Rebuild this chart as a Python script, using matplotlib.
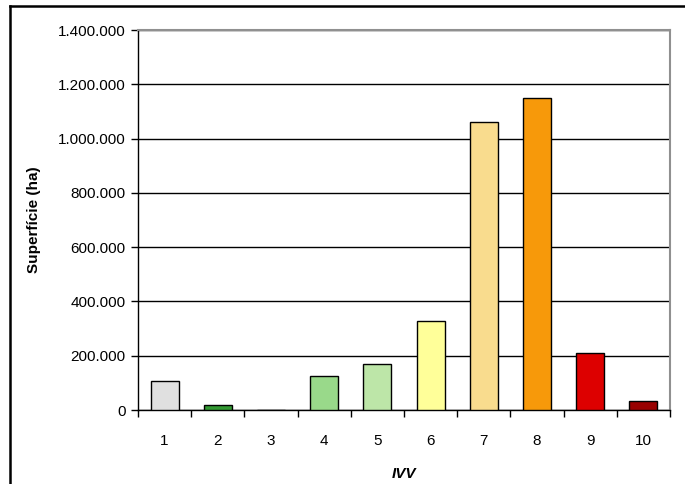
import matplotlib.pyplot as plt
from matplotlib.ticker import FuncFormatter, FixedLocator, NullFormatter
from matplotlib.lines import Line2D

plt.rcParams['font.family'] = ['Liberation Sans', 'DejaVu Sans']

# Área por classe de IVV
classes = ["1", "2", "3", "4", "5", "6", "7", "8", "9", "10"]
area_ha = [108000, 17000, 0, 124000, 169000, 327000, 1061000, 1150000, 209000, 34000]
colors = ["#E0E0E0", "#339933", "#FFFFFF", "#99D98A", "#BDE6A8",
          "#FFFF99", "#F9DC8E", "#F7990A", "#DD0000", "#990000"]

fig = plt.figure(figsize=(6.85, 4.84), dpi=100)
ax = fig.add_axes([138 / 685, 1 - 410 / 484, 532 / 685, 380 / 484])

x = list(range(1, len(classes) + 1))
ax.bar(x, area_ha, width=0.53, color=colors, edgecolor="black", linewidth=1.0, zorder=3)

ax.set_xlim(0.5, len(classes) + 0.5)
ax.set_ylim(0, 1400000)
ax.set_yticks(range(0, 1400001, 200000))
ax.yaxis.set_major_formatter(FuncFormatter(lambda v, p: f"{int(v):,}".replace(",", ".")))
ax.grid(axis="y", color="black", linewidth=1.0, zorder=0)

# ticks entre categorias, rótulos no centro
ax.xaxis.set_major_locator(FixedLocator([i + 0.5 for i in range(len(classes) + 1)]))
ax.xaxis.set_major_formatter(NullFormatter())
ax.xaxis.set_minor_locator(FixedLocator(x))
ax.set_xticklabels(classes, minor=True)
ax.tick_params(axis="x", which="minor", length=0, pad=17, labelsize=11)
ax.tick_params(axis="x", which="major", length=5, width=1, direction="out")
ax.tick_params(axis="y", length=5, width=1, direction="out", labelsize=11, pad=4)

for side in ["top", "right"]:
    ax.spines[side].set_color("#909090")
    ax.spines[side].set_linewidth(1.5)
for side in ["left", "bottom"]:
    ax.spines[side].set_color("black")
    ax.spines[side].set_linewidth(1.0)

ax.set_ylabel("Superfície (ha)", fontsize=11, fontweight="bold", labelpad=12)
ax.set_xlabel("IVV", fontsize=11, fontweight="bold", fontstyle="italic", labelpad=14)

# moldura do gráfico (apenas esquerda e topo visíveis)
fig.add_artist(Line2D([10 / 685, 10 / 685], [0, 1 - 6 / 484], color="black", linewidth=1.8))
fig.add_artist(Line2D([10 / 685, 1], [1 - 6 / 484, 1 - 6 / 484], color="black", linewidth=1.8))

fig.savefig("out.png", dpi=100)
